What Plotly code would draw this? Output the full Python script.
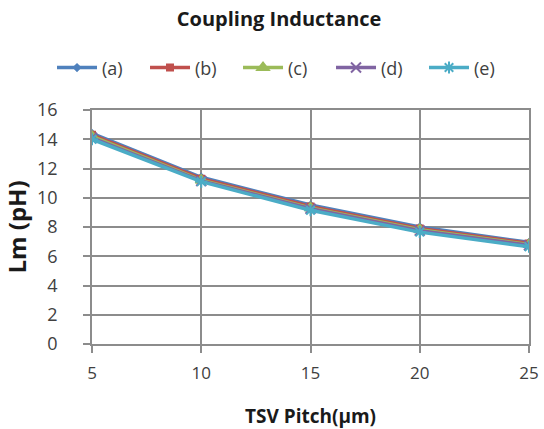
import plotly.graph_objects as go

pitch = [5, 10, 15, 20, 25]
series_names = ["(a)", "(b)", "(c)", "(d)", "(e)"]
lm_a = [14.4, 11.4, 9.5, 8.0, 6.95]
lm_b = [14.3, 11.3, 9.4, 7.9, 6.88]
lm_c = [14.2, 11.2, 9.3, 7.82, 6.8]
lm_d = [14.1, 11.15, 9.25, 7.75, 6.75]
lm_e = [14.0, 11.1, 9.15, 7.65, 6.65]
y_ticks = [0, 2, 4, 6, 8, 10, 12, 14, 16]
x_ticks = [5, 10, 15, 20, 25]

colors = ["#4F81BD", "#C0504D", "#9BBB59", "#8064A2", "#4BACC6"]
symbols = ["diamond", "square", "triangle-up", "x-thin-open", "asterisk-open"]
sizes = [5, 6, 10, 10, 10]

fig = go.Figure()
for name, vals, c, s, sz in zip(series_names, [lm_a, lm_b, lm_c, lm_d, lm_e], colors, symbols, sizes):
    fig.add_trace(go.Scatter(
        x=pitch, y=vals, name=name, mode="lines+markers",
        line=dict(color=c, width=3.5),
        marker=dict(symbol=s, size=sz, color=c, line=dict(color=c, width=2)),
    ))

fig.update_layout(
    width=544, height=429,
    margin=dict(l=92, r=15, t=110, b=85, autoexpand=False),
    paper_bgcolor="white", plot_bgcolor="white",
    font=dict(family="Open Sans, sans-serif", color="#404040"),
    title=dict(text="<b>Coupling Inductance</b>", x=0.513, xanchor="center",
               y=0.956, yanchor="middle", font=dict(size=20, color="#1a1a1a")),
    legend=dict(orientation="h", x=-0.0915, xanchor="left", y=1.18, yanchor="middle",
                font=dict(size=18, color="#404040"), itemwidth=40,
                entrywidth=38, entrywidthmode="pixels",
                tracegroupgap=0, bgcolor="rgba(0,0,0,0)"),
    showlegend=True,
)
fig.update_xaxes(
    range=[5, 25], tickvals=x_ticks, ticktext=[str(v) for v in x_ticks],
    showgrid=True, gridcolor="#8c8c8c", gridwidth=1.5,
    showline=True, linecolor="#8c8c8c", linewidth=1.5, mirror=True,
    ticks="outside", ticklen=7, tickcolor="#8c8c8c", tickwidth=1.5,
    ticklabelstandoff=6, automargin=False,
    tickfont=dict(size=17, color="#404040"), zeroline=False,
    title=dict(text="<b>TSV Pitch(µm)</b>", font=dict(size=19, color="#1a1a1a"), standoff=30),
)
fig.update_yaxes(
    range=[0, 16], tickvals=y_ticks,
    showgrid=True, gridcolor="#8c8c8c", gridwidth=1.5,
    showline=True, linecolor="#8c8c8c", linewidth=1.5, mirror=True,
    ticks="outside", ticklen=7, tickcolor="#8c8c8c", tickwidth=1.5,
    ticklabelstandoff=22, automargin=False,
    tickfont=dict(size=18, color="#404040"), zeroline=False,
    title=dict(text="<b>Lm (pH)</b>", font=dict(size=24, color="#1a1a1a"), standoff=14),
)

fig.write_html("out.html")
